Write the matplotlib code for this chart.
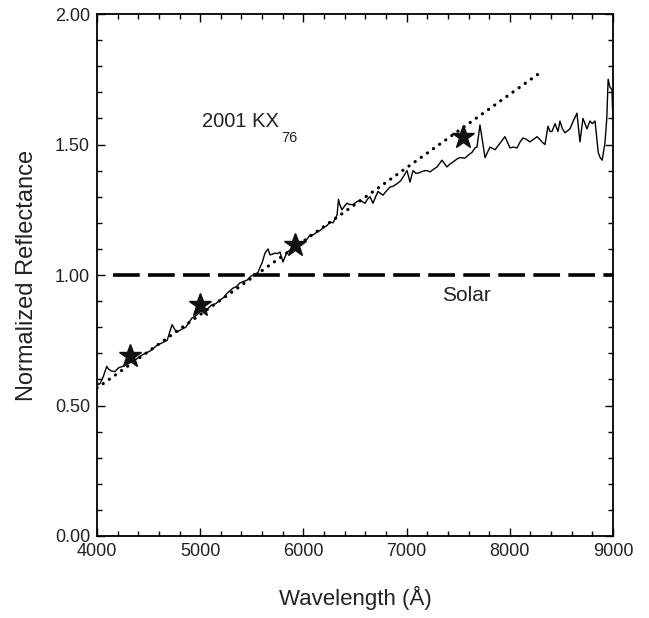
import matplotlib
matplotlib.use("Agg")
import matplotlib.pyplot as plt
from matplotlib.ticker import MultipleLocator, FormatStrFormatter

plt.rcParams['font.family'] = ['Liberation Sans', 'DejaVu Sans']

# Spectrum (wavelength in Angstrom, normalized reflectance)
wave = [4000, 4015, 4030, 4060, 4094, 4110, 4140, 4174, 4210, 4250, 4300, 4340,
        4370, 4420, 4470, 4520, 4580, 4630, 4680, 4727, 4770, 4810, 4860, 4920,
        4960, 5020, 5070, 5110, 5150, 5192, 5230, 5260, 5290, 5318, 5350, 5386,
        5420, 5453, 5490, 5512, 5540, 5560, 5580, 5599, 5628, 5657, 5676, 5700,
        5725, 5750, 5773, 5802, 5841, 5870, 5899, 5940, 5986, 6030, 6064, 6100,
        6132, 6160, 6190, 6230, 6258, 6287, 6326, 6340, 6352, 6374, 6400, 6422,
        6450, 6481, 6515, 6548, 6575, 6597, 6620, 6645, 6674, 6700, 6723, 6771,
        6800, 6839, 6870, 6907, 6940, 6965, 7004, 7033, 7062, 7090, 7110, 7140,
        7178, 7200, 7227, 7260, 7295, 7343, 7391, 7420, 7450, 7490, 7517, 7566,
        7600, 7634, 7663, 7682, 7711, 7740, 7760, 7808, 7857, 7905, 7953, 8002,
        8035, 8070, 8100, 8128, 8160, 8196, 8230, 8264, 8290, 8312, 8341, 8370,
        8390, 8409, 8438, 8467, 8486, 8510, 8535, 8583, 8615, 8651, 8680, 8709,
        8748, 8777, 8800, 8826, 8857, 8875, 8895, 8922, 8940, 8953, 8970, 8990,
        9000]
refl = [0.59, 0.58, 0.585, 0.61, 0.65, 0.64, 0.632, 0.63, 0.645, 0.65, 0.66, 0.668,
        0.674, 0.69, 0.70, 0.71, 0.73, 0.74, 0.75, 0.81, 0.78, 0.79, 0.80, 0.835,
        0.845, 0.866, 0.87, 0.885, 0.89, 0.904, 0.915, 0.93, 0.94, 0.95, 0.955, 0.97,
        0.975, 0.98, 0.995, 1.00, 1.005, 1.01, 1.03, 1.046, 1.084, 1.10, 1.077, 1.08,
        1.084, 1.082, 1.088, 1.05, 1.088, 1.095, 1.107, 1.11, 1.12, 1.135, 1.153, 1.155,
        1.165, 1.17, 1.18, 1.19, 1.203, 1.20, 1.23, 1.29, 1.27, 1.25, 1.265, 1.275,
        1.27, 1.27, 1.28, 1.287, 1.28, 1.275, 1.29, 1.30, 1.275, 1.30, 1.32, 1.306,
        1.32, 1.337, 1.34, 1.35, 1.36, 1.375, 1.40, 1.356, 1.40, 1.39, 1.39, 1.395,
        1.40, 1.40, 1.395, 1.405, 1.414, 1.44, 1.414, 1.425, 1.433, 1.445, 1.45, 1.448,
        1.46, 1.47, 1.487, 1.49, 1.575, 1.50, 1.45, 1.49, 1.48, 1.505, 1.53, 1.487,
        1.49, 1.487, 1.51, 1.525, 1.52, 1.51, 1.52, 1.53, 1.52, 1.51, 1.50, 1.57,
        1.55, 1.55, 1.58, 1.55, 1.59, 1.56, 1.545, 1.56, 1.59, 1.62, 1.51, 1.60,
        1.56, 1.59, 1.58, 1.59, 1.47, 1.45, 1.44, 1.505, 1.60, 1.75, 1.72, 1.71,
        1.59]

# Photometric points (stars)
star_wave = [4320, 5000, 5920, 7550]
star_refl = [0.69, 0.885, 1.115, 1.53]

# Linear fit (dotted)
fit_wave = [4000, 8290]
fit_refl = [0.567, 1.774]

# Solar reference
solar_wave = [4150, 9000]
solar_refl = [1.0, 1.0]

fig = plt.figure(figsize=(6.49, 6.18), dpi=100)
ax = fig.add_axes([0.1495, 0.1327, 0.795, 0.8446])

ax.plot(solar_wave, solar_refl, color='black', lw=2.6, dashes=(7.4, 2.3),
        dash_capstyle='butt')
ax.plot(fit_wave, fit_refl, color='black', lw=2.3, linestyle=(0, (0.05, 2.3)),
        dash_capstyle='round')
ax.plot(wave, refl, color='black', lw=1.0)
ax.plot(star_wave, star_refl, linestyle='none', marker='*', ms=17,
        color='#111111', mec='#111111')

ax.set_xlim(4000, 9000)
ax.set_ylim(0, 2.0)
ax.xaxis.set_major_locator(MultipleLocator(1000))
ax.xaxis.set_minor_locator(MultipleLocator(200))
ax.yaxis.set_major_locator(MultipleLocator(0.5))
ax.yaxis.set_minor_locator(MultipleLocator(0.1))
ax.yaxis.set_major_formatter(FormatStrFormatter('%.2f'))

ax.tick_params(which='both', direction='in', top=True, right=True,
               labelsize=13, labelcolor='#222222', width=1.0)
ax.tick_params(which='major', length=6)
ax.tick_params(which='minor', length=3.5)
ax.tick_params(axis='y', pad=5)
ax.tick_params(axis='x', pad=5)
for s in ax.spines.values():
    s.set_linewidth(1.3)

ax.set_xlabel('Wavelength (Å)', fontsize=16, color='#222222', labelpad=19)
ax.set_ylabel('Normalized Reflectance', fontsize=17, color='#222222', labelpad=12)

ax.text(0.2035, 0.794, '2001 KX', transform=ax.transAxes,
        fontsize=14.5, color='#222222', ha='left', va='center')
ax.text(0.357, 0.762, '76', transform=ax.transAxes,
        fontsize=10.5, color='#222222', ha='left', va='center')
ax.text(0.668, 0.4607, 'Solar', transform=ax.transAxes,
        fontsize=15, color='#222222', ha='left', va='center')

fig.savefig('out.png', dpi=100)
